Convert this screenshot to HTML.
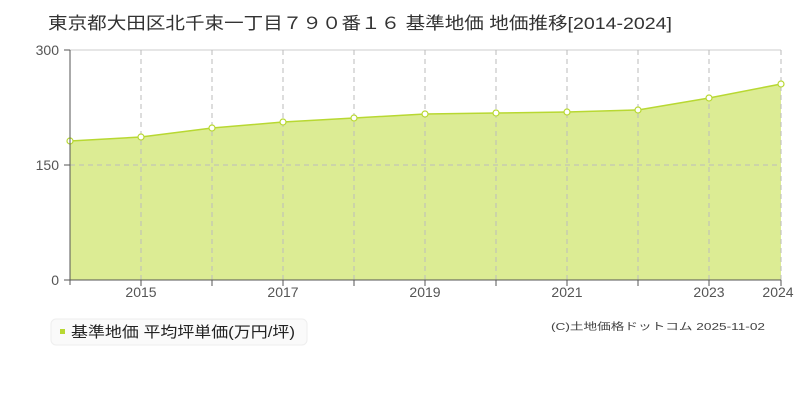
<!DOCTYPE html>
<html><head><meta charset="utf-8"><style>
body{margin:0;width:800px;height:400px;background:#fff;font-family:"Liberation Sans","Noto Sans CJK JP",sans-serif;overflow:hidden}
</style></head><body>
<svg width="800" height="400" xmlns="http://www.w3.org/2000/svg" font-family="Liberation Sans, Noto Sans CJK JP, sans-serif">
<text x="48" y="29" font-size="17" fill="#333" textLength="624" lengthAdjust="spacingAndGlyphs">東京都大田区北千束一丁目７９０番１６ 基準地価 地価推移[2014-2024]</text>
<polygon points="70,141 141,137 212,128 283,122 354,118 425,114 496,113 567,112 638,110 709,98 781,84 781,280 70,280" fill="#dcec94"/>
<g stroke="#bbb" stroke-dasharray="5,4" stroke-width="1">
<line x1="70" y1="50" x2="781" y2="50" stroke-dasharray="none" stroke="#ccc"/>
<line x1="70" y1="165" x2="781" y2="165"/>
<line x1="141" y1="50" x2="141" y2="280"/><line x1="212" y1="50" x2="212" y2="280"/><line x1="283" y1="50" x2="283" y2="280"/><line x1="354" y1="50" x2="354" y2="280"/><line x1="425" y1="50" x2="425" y2="280"/><line x1="496" y1="50" x2="496" y2="280"/><line x1="567" y1="50" x2="567" y2="280"/><line x1="638" y1="50" x2="638" y2="280"/><line x1="709" y1="50" x2="709" y2="280"/><line x1="781" y1="50" x2="781" y2="280"/>
</g>
<polyline points="70,141 141,137 212,128 283,122 354,118 425,114 496,113 567,112 638,110 709,98 781,84" fill="none" stroke="#b8d832" stroke-width="1.5"/>
<g fill="#fff" stroke="#b8d832" stroke-width="1.2">
<circle cx="70" cy="141" r="3"/><circle cx="141" cy="137" r="3"/><circle cx="212" cy="128" r="3"/><circle cx="283" cy="122" r="3"/><circle cx="354" cy="118" r="3"/><circle cx="425" cy="114" r="3"/><circle cx="496" cy="113" r="3"/><circle cx="567" cy="112" r="3"/><circle cx="638" cy="110" r="3"/><circle cx="709" cy="98" r="3"/><circle cx="781" cy="84" r="3"/>
</g>
<g stroke="#555" stroke-width="1">
<line x1="70" y1="50" x2="70" y2="285"/><line x1="64" y1="280" x2="781" y2="280"/>
<line x1="64" y1="50" x2="70" y2="50"/><line x1="64" y1="165" x2="70" y2="165"/>
<line x1="141" y1="280" x2="141" y2="286"/><line x1="212" y1="280" x2="212" y2="286"/><line x1="283" y1="280" x2="283" y2="286"/><line x1="354" y1="280" x2="354" y2="286"/><line x1="425" y1="280" x2="425" y2="286"/><line x1="496" y1="280" x2="496" y2="286"/><line x1="567" y1="280" x2="567" y2="286"/><line x1="638" y1="280" x2="638" y2="286"/><line x1="709" y1="280" x2="709" y2="286"/><line x1="781" y1="280" x2="781" y2="286"/>
</g>
<g font-size="14" fill="#555" text-anchor="end">
<text x="59" y="55">300</text><text x="59" y="170">150</text><text x="59" y="285">0</text>
</g>
<g font-size="14" fill="#555" text-anchor="middle">
<text x="141" y="297">2015</text><text x="283" y="297">2017</text><text x="425" y="297">2019</text><text x="567" y="297">2021</text><text x="709" y="297">2023</text><text x="778" y="297">2024</text>
</g>
<rect x="51" y="319" width="256" height="26" rx="5" fill="#fafafa" stroke="#eee"/>
<rect x="60" y="329" width="5" height="5" fill="#b8d832"/>
<text x="71" y="337" font-size="15" fill="#222" textLength="224" lengthAdjust="spacingAndGlyphs">基準地価 平均坪単価(万円/坪)</text>
<text x="551" y="330" font-size="10" fill="#444" textLength="214" lengthAdjust="spacingAndGlyphs">(C)土地価格ドットコム 2025-11-02</text>
</svg>
</body></html>
